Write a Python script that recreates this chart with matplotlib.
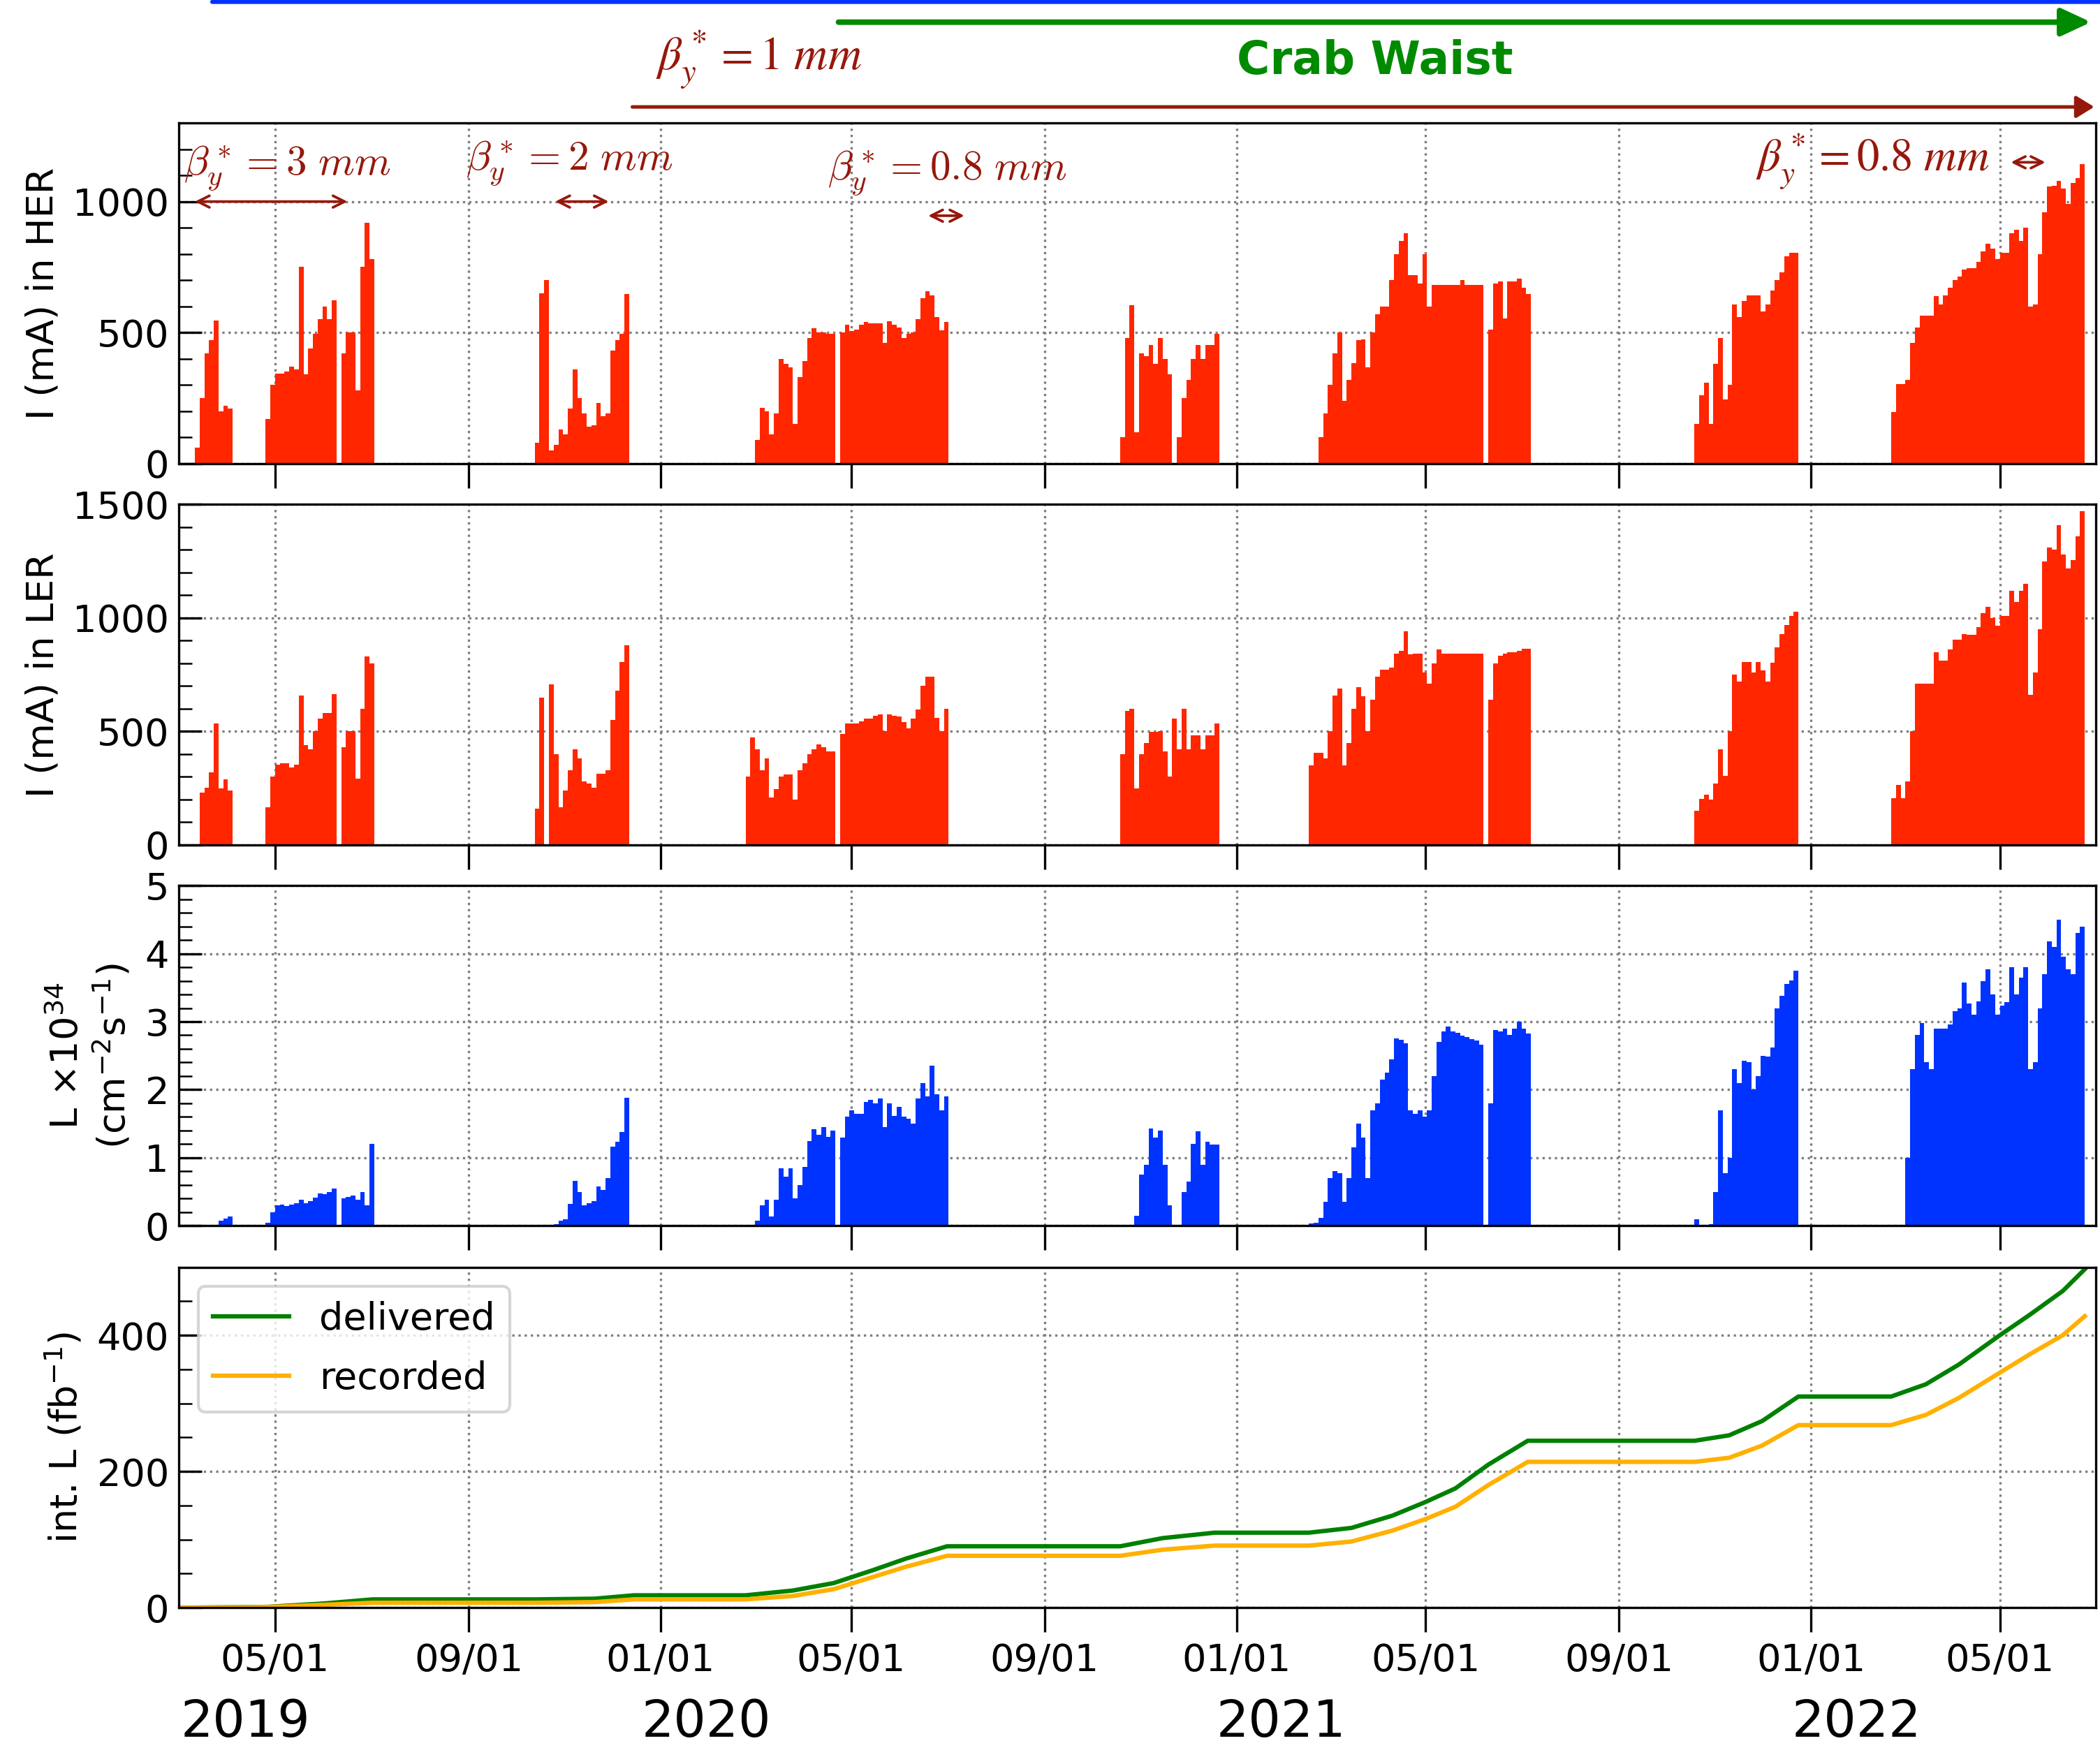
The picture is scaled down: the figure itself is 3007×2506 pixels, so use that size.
import numpy as np
import pandas as pd
import matplotlib
matplotlib.use('Agg')
import matplotlib.pyplot as plt
import matplotlib.dates as mdates
from matplotlib.ticker import MultipleLocator
from matplotlib.transforms import blended_transform_factory

# first day of each run; values below are 3-day averages from that day on
run_starts = ['2019-03-11', '2019-10-13', '2020-02-24', '2020-10-19',
              '2021-02-16', '2021-10-19', '2022-02-21']
bin_days = 3

# HER current (mA)
her_19a = [60, 250, 420, 470, 545, 200, 220, 210, 0, 0, 0, 0, 0, 0, 0,
           170, 300, 343, 343, 350, 370, 360, 750, 340, 440, 496, 550, 600, 550, 623,
           0, 420, 500, 500, 280, 750, 920, 780]
her_19b = [80, 650, 700, 50, 70, 130, 110, 210, 360, 250, 190, 139, 145, 230, 179,
           190, 430, 470, 496, 646]
her_20a = [0, 0, 90, 211, 200, 110, 190, 400, 380, 366, 150, 330, 390, 480, 515,
           500, 500, 496, 496, 0, 500, 530, 505, 512, 530, 540, 536, 536, 536, 460,
           543, 530, 518, 480, 496, 500, 550, 630, 657, 643, 560, 509, 540]
her_20b = [100, 480, 604, 120, 420, 410, 452, 380, 480, 400, 340, 0, 100, 250, 320,
           400, 452, 400, 452, 452, 496]
her_21a = [0, 0, 100, 190, 300, 420, 500, 240, 320, 384, 470, 473, 366, 500, 570,
           598, 598, 700, 800, 850, 880, 720, 720, 688, 800, 600, 682, 682, 682, 682,
           682, 682, 700, 682, 682, 682, 682, 0, 510, 688, 696, 554, 696, 696, 705,
           670, 646]
her_21b = [150, 260, 307, 150, 380, 480, 245, 300, 607, 560, 620, 643, 643, 643, 580,
           607, 660, 700, 730, 790, 804, 804]
her_22a = [196, 304, 304, 320, 460, 520, 563, 563, 563, 640, 607, 643, 670, 700, 715,
           740, 745, 745, 770, 810, 840, 820, 780, 804, 804, 880, 893, 850, 900, 600,
           607, 800, 960, 1058, 1060, 1080, 1050, 991, 1071, 1090, 1143]

# LER current (mA)
ler_19a = [0, 230, 253, 320, 535, 250, 290, 240, 0, 0, 0, 0, 0, 0, 0,
           165, 300, 355, 360, 360, 340, 354, 658, 440, 420, 500, 556, 580, 580, 663,
           0, 430, 500, 500, 292, 600, 830, 800]
ler_19b = [160, 650, 0, 706, 400, 165, 240, 329, 420, 380, 280, 270, 253, 313, 313,
           330, 550, 680, 807, 879]
ler_20a = [300, 473, 420, 330, 381, 210, 247, 300, 309, 309, 200, 330, 360, 401, 420,
           442, 430, 412, 412, 0, 490, 535, 535, 535, 545, 556, 556, 570, 576, 500,
           576, 570, 566, 540, 514, 556, 597, 700, 741, 741, 560, 500, 600]
ler_20b = [400, 590, 600, 250, 400, 450, 498, 498, 500, 412, 300, 556, 420, 600, 420,
           484, 484, 420, 484, 484, 535]
ler_21a = [350, 407, 407, 380, 500, 658, 690, 350, 450, 600, 695, 654, 500, 640, 740,
           772, 772, 782, 844, 854, 940, 840, 844, 844, 760, 710, 800, 860, 844, 844,
           844, 844, 844, 844, 844, 844, 844, 0, 640, 800, 833, 844, 850, 850, 855,
           864, 864]
ler_21b = [150, 202, 220, 200, 270, 420, 305, 500, 751, 720, 807, 807, 760, 807, 770,
           720, 803, 870, 930, 970, 1010, 1029]
ler_22a = [206, 263, 206, 280, 500, 710, 710, 710, 710, 850, 813, 813, 860, 905, 905,
           930, 926, 926, 960, 1020, 1050, 1000, 967, 1008, 1008, 1120, 1070, 1120, 1150, 660,
           761, 950, 1250, 1310, 1300, 1409, 1280, 1218, 1255, 1360, 1471]

# peak luminosity (1e34 cm^-2 s^-1)
lum_19a = [0, 0, 0, 0, 0.02, 0.08, 0.11, 0.14, 0, 0, 0, 0, 0, 0, 0,
           0.05, 0.2, 0.3, 0.31, 0.29, 0.31, 0.33, 0.38, 0.33, 0.36, 0.42, 0.48, 0.47, 0.5, 0.55,
           0, 0.4, 0.43, 0.45, 0.38, 0.5, 0.3, 1.2]
lum_19b = [0, 0, 0, 0, 0.03, 0.08, 0.1, 0.32, 0.66, 0.5, 0.3, 0.33, 0.36, 0.58, 0.53,
           0.7, 1.16, 1.24, 1.38, 1.88]
lum_20a = [0, 0, 0.08, 0.3, 0.38, 0.14, 0.38, 0.85, 0.72, 0.85, 0.4, 0.6, 0.87, 1.25, 1.42,
           1.34, 1.45, 1.31, 1.40, 0, 1.3, 1.6, 1.7, 1.65, 1.65, 1.82, 1.85, 1.8, 1.87, 1.45,
           1.8, 1.62, 1.75, 1.6, 1.57, 1.5, 1.87, 2.1, 1.9, 2.35, 1.93, 1.7, 1.9]
lum_20b = [0, 0, 0, 0.15, 0.75, 0.9, 1.43, 1.3, 1.4, 0.9, 0.3, 0, 0, 0.5, 0.65,
           1.2, 1.39, 0.9, 1.24, 1.19, 1.19]
lum_21a = [0.04, 0.05, 0.12, 0.35, 0.7, 0.8, 0.77, 0.35, 0.7, 1.15, 1.5, 1.3, 0.7, 1.7, 1.8,
           2.15, 2.25, 2.45, 2.75, 2.73, 2.68, 1.7, 1.65, 1.7, 1.6, 1.7, 2.2, 2.7, 2.86, 2.93,
           2.86, 2.84, 2.79, 2.77, 2.74, 2.72, 2.66, 0, 1.8, 2.88, 2.86, 2.9, 2.8, 2.9, 3.0,
           2.9, 2.83]
lum_21b = [0.1, 0, 0, 0.03, 0.5, 1.7, 0.77, 1.0, 2.3, 2.1, 2.43, 2.4, 2.0, 2.2, 2.5,
           2.49, 2.62, 3.2, 3.38, 3.55, 3.61, 3.75]
lum_22a = [0, 0.02, 0, 1.0, 2.3, 2.8, 2.98, 2.4, 2.3, 2.9, 2.9, 2.9, 2.96, 3.15, 3.2,
           3.57, 3.27, 3.1, 3.3, 3.6, 3.77, 3.4, 3.1, 3.24, 3.29, 3.8, 3.4, 3.65, 3.8, 2.3,
           2.4, 3.2, 3.7, 4.18, 4.1, 4.5, 3.95, 3.77, 3.7, 4.3, 4.4]

# integrated luminosity (fb^-1)
int_dates = ['2019-03-01', '2019-03-11', '2019-04-05', '2019-04-26', '2019-06-01', '2019-07-02',
             '2019-10-13', '2019-11-20', '2019-12-15', '2020-02-24', '2020-03-25',
             '2020-04-20', '2020-05-15', '2020-06-05', '2020-07-01', '2020-10-19',
             '2020-11-15', '2020-12-18', '2021-02-16', '2021-03-15', '2021-04-10',
             '2021-05-01', '2021-05-20', '2021-06-10', '2021-07-05', '2021-10-19',
             '2021-11-10', '2021-12-01', '2021-12-24', '2022-02-21', '2022-03-15',
             '2022-04-05', '2022-05-01', '2022-05-20', '2022-06-10', '2022-06-24']
delivered = [0, 0, 0.5, 1, 6, 12, 12, 13, 18, 18, 25, 36, 55, 72, 90, 90, 102, 110, 110,
             117, 135, 155, 175, 210, 245, 245, 253, 274, 310, 310, 328, 357, 400, 430,
             465, 497]
recorded = [0, 0, 0.3, 0.8, 4, 7, 7, 8, 12, 12, 17, 27, 45, 60, 76, 76, 85, 91, 91,
            97, 113, 130, 148, 180, 214, 214, 220, 238, 268, 268, 283, 308, 345, 372,
            400, 428]

year_labels = ['2019', '2020', '2021', '2022']
year_pos = ['2019-03-02', '2019-12-20', '2020-12-19', '2021-12-20']

red = '#ff2600'
blue = '#0033ff'
dkred = '#96180c'
green = '#008a00'


def dnum(d):
    return mdates.date2num(pd.Timestamp(d))


def draw_runs(ax, runs, color):
    for start, vals in zip(run_starts, runs):
        edges = dnum(start) + bin_days * np.arange(len(vals) + 1)
        ax.stairs(vals, edges, fill=True, color=color, lw=0)


fig = plt.figure(figsize=(3007 / 300, 2506 / 300), dpi=300)
left, width, height = 0.0853, 0.9127, 0.1945
bottoms = [0.7352, 0.5172, 0.2995, 0.0814]
axes = []
for b in bottoms:
    ax = fig.add_axes([left, b, width, height], sharex=axes[0] if axes else None)
    axes.append(ax)
ax1, ax2, ax3, ax4 = axes

draw_runs(ax1, [her_19a, her_19b, her_20a, her_20b, her_21a, her_21b, her_22a], red)
draw_runs(ax2, [ler_19a, ler_19b, ler_20a, ler_20b, ler_21a, ler_21b, ler_22a], red)
draw_runs(ax3, [lum_19a, lum_19b, lum_20a, lum_20b, lum_21a, lum_21b, lum_22a], blue)

t = pd.to_datetime(int_dates)
ax4.plot(t, delivered, color='green', lw=1.5, label='delivered')
ax4.plot(t, recorded, color='#ffb000', lw=1.5, label='recorded')
ax4.legend(loc='upper left', fontsize=13, labelspacing=0.6)

ax1.set_ylim(0, 1300)
ax1.yaxis.set_major_locator(MultipleLocator(500))
ax1.yaxis.set_minor_locator(MultipleLocator(100))
ax1.set_ylabel('I (mA) in HER', fontsize=13)

ax2.set_ylim(0, 1500)
ax2.yaxis.set_major_locator(MultipleLocator(500))
ax2.yaxis.set_minor_locator(MultipleLocator(100))
ax2.set_ylabel('I (mA) in LER', fontsize=13)

ax3.set_ylim(0, 5)
ax3.yaxis.set_major_locator(MultipleLocator(1))
ax3.yaxis.set_minor_locator(MultipleLocator(0.2))
ax3.set_ylabel('L $\\times10^{34}$\n(cm$^{-2}$s$^{-1}$)', fontsize=13)

ax4.set_ylim(0, 500)
ax4.yaxis.set_major_locator(MultipleLocator(200))
ax4.yaxis.set_minor_locator(MultipleLocator(50))
ax4.set_ylabel('int. L (fb$^{-1}$)', fontsize=13)

for ax in axes:
    ax.xaxis_date()
    ax.tick_params(axis='y', which='major', direction='in', length=8, labelsize=13)
    ax.tick_params(axis='y', which='minor', direction='in', length=4.5)
    ax.tick_params(axis='x', which='major', direction='out', length=8.5, labelsize=13)
    ax.grid(True, which='major', linestyle=':', color='gray', linewidth=0.8)
    ax.set_axisbelow(True)
ax4.xaxis.set_major_locator(mdates.MonthLocator(bymonth=[1, 5, 9]))
ax4.xaxis.set_major_formatter(mdates.DateFormatter('%m/%d'))
ax4.set_xlim(dnum('2019-03-01'), dnum('2022-07-01'))
for ax in axes[:3]:
    ax.tick_params(axis='x', labelbottom=False)

# year labels under the date ticks
ytrans = blended_transform_factory(ax4.transData, fig.transFigure)
for lab, d in zip(year_labels, year_pos):
    ax4.text(dnum(d), 0.0076, lab, transform=ytrans, fontsize=17.5,
             ha='left', va='baseline')

# machine configuration arrows above the top panel
fc = ('data', 'figure fraction')
ax1.annotate('', xy=(dnum('2022-07-10'), 0.9989), xytext=(dnum('2019-03-22'), 0.9989),
             xycoords=fc, textcoords=fc, annotation_clip=False,
             arrowprops=dict(arrowstyle='-', color=blue, lw=1.4, shrinkA=0, shrinkB=0))
ax1.annotate('', xy=(dnum('2022-06-28'), 0.98735), xytext=(dnum('2020-04-23'), 0.98735),
             xycoords=fc, textcoords=fc, annotation_clip=False,
             arrowprops=dict(arrowstyle='-|>,head_length=0.43,head_width=0.2',
                             mutation_scale=20, color=green, lw=1.9,
                             shrinkA=0, shrinkB=0))
ax1.annotate('', xy=(dnum('2022-06-30'), 0.9389), xytext=(dnum('2019-12-14'), 0.9389),
             xycoords=fc, textcoords=fc, annotation_clip=False,
             arrowprops=dict(arrowstyle='-|>,head_length=0.26,head_width=0.16',
                             mutation_scale=20, color=dkred, lw=1.2,
                             shrinkA=0, shrinkB=0))
ftrans = blended_transform_factory(ax1.transData, fig.transFigure)
ax1.text(dnum('2021-03-30'), 0.9649, 'Crab Waist', transform=ftrans, color=green,
         fontsize=15.5, fontweight='bold', ha='center', va='center')
ax1.text(dnum('2019-12-29'), 0.960, r'$\beta_y^* = 1\ mm$', transform=ftrans,
         color=dkred, fontsize=16, ha='left', va='baseline', math_fontfamily='stix')

# beta* periods inside the HER panel
beta_labels = [r'$\beta_y^* = 3\ mm$', r'$\beta_y^* = 2\ mm$',
               r'$\beta_y^* = 0.8\ mm$', r'$\beta_y^* = 0.8\ mm$']
beta_text_x = ['2019-03-04', '2019-08-30', '2020-04-16', '2021-11-27']
beta_text_y = [1104, 1123, 1086, 1118]
beta_fonts = ['cm', 'cm', 'cm', 'stix']
beta_sizes = [14.2, 14.2, 14.2, 15.5]
beta_from = ['2019-03-11', '2019-10-26', '2020-06-19', '2022-05-08']
beta_to = ['2019-06-16', '2019-11-29', '2020-07-12', '2022-05-30']
beta_arrow_y = [1000, 1000, 946, 1150]
for lab, tx, ty, mf, fs in zip(beta_labels, beta_text_x, beta_text_y, beta_fonts, beta_sizes):
    ax1.text(dnum(tx), ty, lab, color=dkred, fontsize=fs, ha='left', va='baseline',
             math_fontfamily=mf)
for a, b, y in zip(beta_from, beta_to, beta_arrow_y):
    ax1.annotate('', xy=(dnum(b), y), xytext=(dnum(a), y),
                 arrowprops=dict(arrowstyle='<->,head_length=0.4,head_width=0.2',
                                 mutation_scale=10, color=dkred, lw=0.9,
                                 shrinkA=0, shrinkB=0))

fig.savefig('out.png', dpi=300)
